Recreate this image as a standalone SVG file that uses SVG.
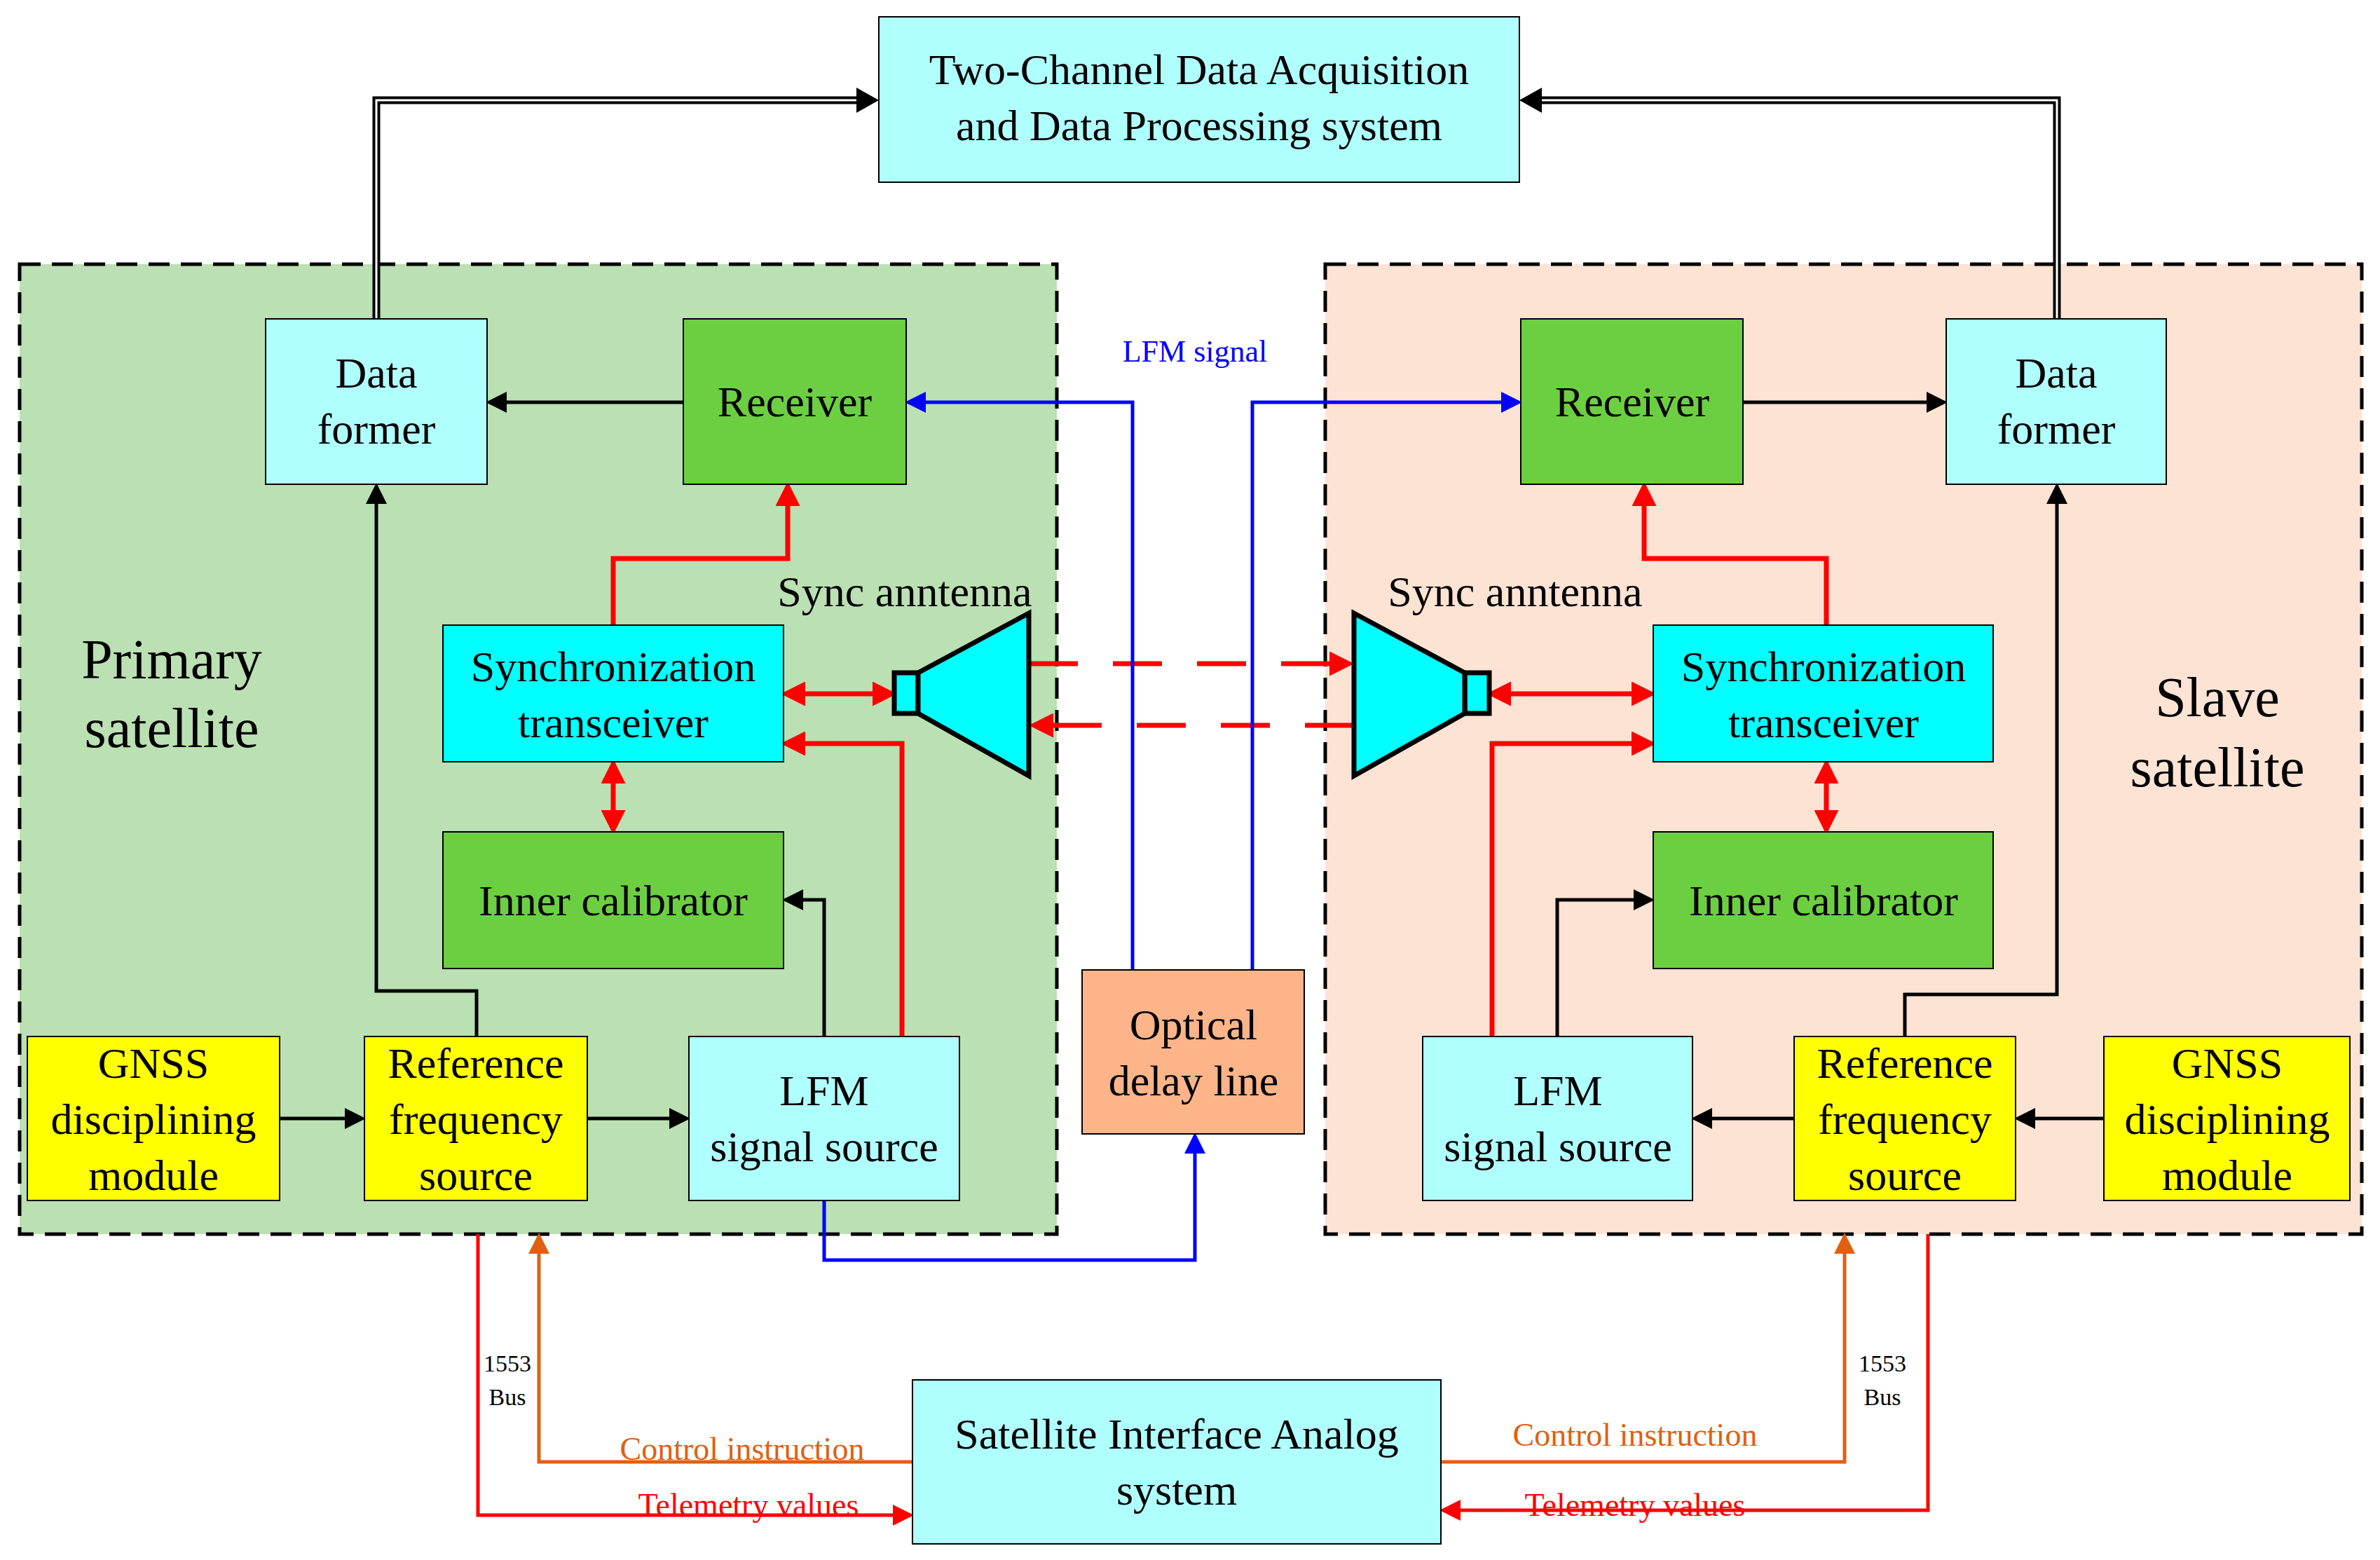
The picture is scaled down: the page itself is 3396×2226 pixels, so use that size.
<svg xmlns="http://www.w3.org/2000/svg" width="3396" height="2226" viewBox="0 0 3396 2226">
<defs>
<style>
text{font-family:"Liberation Serif","Times New Roman",serif;text-anchor:middle}
.t{font-size:62px;fill:#000}
.b{stroke:#000;stroke-width:2}
.k{fill:none;stroke:#000;stroke-width:5}
.r{fill:none;stroke:#ff0000;stroke-width:7}
.u{fill:none;stroke:#0000ff;stroke-width:5}
.o{fill:none;stroke:#e06010;stroke-width:5}
.rt{fill:none;stroke:#ff0000;stroke-width:5}
</style>
<marker id="ak" markerWidth="6" markerHeight="6" refX="5" refY="3" orient="auto" markerUnits="strokeWidth"><path d="M0,0L6,3L0,6z" fill="#000"/></marker>
<marker id="ak2" markerWidth="10" markerHeight="10" refX="9" refY="5" orient="auto" markerUnits="userSpaceOnUse" viewBox="0 0 10 10"><path d="M0,0L10,5L0,10z" fill="#000"/></marker>
<marker id="ar" markerWidth="5" markerHeight="5" refX="4" refY="2.5" orient="auto-start-reverse" markerUnits="strokeWidth"><path d="M0,0L5,2.5L0,5z" fill="#ff0000"/></marker>
<marker id="au" markerWidth="6" markerHeight="6" refX="5" refY="3" orient="auto" markerUnits="strokeWidth"><path d="M0,0L6,3L0,6z" fill="#0000ff"/></marker>
<marker id="ao" markerWidth="6" markerHeight="6" refX="5" refY="3" orient="auto" markerUnits="strokeWidth"><path d="M0,0L6,3L0,6z" fill="#e06010"/></marker>
<marker id="art" markerWidth="6" markerHeight="6" refX="5" refY="3" orient="auto" markerUnits="strokeWidth"><path d="M0,0L6,3L0,6z" fill="#ff0000"/></marker>
</defs>
<rect width="3396" height="2226" fill="#fff"/>
<g id="primary"><rect x="28" y="377" width="1480" height="1384" fill="#bbe0b3" stroke="#000" stroke-width="5" stroke-dasharray="30,16"/>
<text class="t" style="font-size:80px" x="245" y="968">Primary</text><text class="t" style="font-size:80px" x="245" y="1066">satellite</text></g>
<g id="slave"><rect x="1891" y="377" width="1479" height="1384" fill="#fde3d4" stroke="#000" stroke-width="5" stroke-dasharray="30,16"/>
<text class="t" style="font-size:80px" x="3164" y="1022">Slave</text><text class="t" style="font-size:80px" x="3164" y="1122">satellite</text></g>

<g id="connectors">
<path d="M537,455V143H1240" fill="none" stroke="#000" stroke-width="11"/>
<path d="M537,455V143H1240" fill="none" stroke="#fff" stroke-width="3"/>
<path d="M1222,125L1254,143L1222,161z"/>
<path d="M2935,455V143H2182" fill="none" stroke="#000" stroke-width="11"/>
<path d="M2935,455V143H2182" fill="none" stroke="#fff" stroke-width="3"/>
<path d="M2200,125L2168,143L2200,161z"/>
<path class="k" d="M975,574H698" marker-end="url(#ak)"/>
<path class="k" d="M2487,574H2774" marker-end="url(#ak)"/>
<path class="k" d="M680,1479V1414H537V694" marker-end="url(#ak)"/>
<path class="k" d="M2718,1479V1419H2935V694" marker-end="url(#ak)"/>
<path class="k" d="M1176,1479V1284H1121" marker-end="url(#ak)"/>
<path class="k" d="M2222,1479V1284H2356" marker-end="url(#ak)"/>
<path class="k" d="M399,1596H517" marker-end="url(#ak)"/>
<path class="k" d="M838,1596H980" marker-end="url(#ak)"/>
<path class="k" d="M3002,1596H2879" marker-end="url(#ak)"/>
<path class="k" d="M2560,1596H2418" marker-end="url(#ak)"/>
<path class="r" d="M875,892V797H1124V694" marker-end="url(#ar)"/>
<path class="r" d="M2606,892V797H2346V694" marker-end="url(#ar)"/>
<path class="r" d="M1121,990H1273" marker-start="url(#ar)" marker-end="url(#ar)"/>
<path class="r" d="M2128,990H2356" marker-start="url(#ar)" marker-end="url(#ar)"/>
<path class="r" d="M1287,1479V1061H1121" marker-end="url(#ar)"/>
<path class="r" d="M2129,1479V1061H2356" marker-end="url(#ar)"/>
<path class="r" d="M875,1090V1184" marker-start="url(#ar)" marker-end="url(#ar)"/>
<path class="r" d="M2606,1090V1184" marker-start="url(#ar)" marker-end="url(#ar)"/>
<path class="r" d="M1468,947H1925" stroke-width="9" stroke-dasharray="70,50" marker-end="url(#ar)"/>
<path class="r" d="M1932,1035H1475" stroke-width="9" stroke-dasharray="70,50" marker-end="url(#ar)"/>
<path class="u" d="M1176,1713V1798H1705V1621" marker-end="url(#au)"/>
<path class="u" d="M1616,1384V574H1296" marker-end="url(#au)"/>
<path class="u" d="M1787,1384V574H2167" marker-end="url(#au)"/>
<path class="rt" d="M682,1761V2162H1299" marker-end="url(#art)"/>
<path class="o" d="M1302,2086H769V1764" marker-end="url(#ao)"/>
<path class="rt" d="M2751,1761V2155H2059" marker-end="url(#art)"/>
<path class="o" d="M2056,2086H2632V1764" marker-end="url(#ao)"/>
<text x="1705" y="516" style="font-size:44px;fill:#0000ff">LFM signal</text>
<text x="724" y="1957" style="font-size:34px">1553</text><text x="724" y="2005" style="font-size:34px">Bus</text>
<text x="2686" y="1957" style="font-size:34px">1553</text><text x="2686" y="2005" style="font-size:34px">Bus</text>
<text x="1059" y="2083" style="font-size:46px;fill:#e06010">Control instruction</text>
<text x="1068" y="2163" style="font-size:46px;fill:#ff0000">Telemetry values</text>
<text x="2333" y="2063" style="font-size:46px;fill:#e06010">Control instruction</text>
<text x="2333" y="2163" style="font-size:46px;fill:#ff0000">Telemetry values</text>
</g>

<g id="top"><rect class="b" x="1254" y="24" width="914" height="236" fill="#b0ffff"/><text class="t" x="1711" y="120">Two-Channel Data Acquisition</text><text class="t" x="1711" y="200">and Data Processing system</text></g>
<g id="dfL"><rect class="b" x="379" y="455" width="316" height="236" fill="#b0ffff"/><text class="t" x="537" y="553">Data</text><text class="t" x="537" y="633">former</text></g>
<g id="rxL"><rect class="b" x="975" y="455" width="318" height="236" fill="#6ccf41"/><text class="t" x="1134" y="594">Receiver</text></g>
<g id="stL"><rect class="b" x="632" y="892" width="486" height="195" fill="#00ffff"/><text class="t" x="875" y="972">Synchronization</text><text class="t" x="875" y="1052">transceiver</text></g>
<g id="icL"><rect class="b" x="632" y="1187" width="486" height="195" fill="#6ccf41"/><text class="t" x="875" y="1306">Inner calibrator</text></g>
<g id="gnL"><rect class="b" x="39" y="1479" width="360" height="234" fill="#ffff00"/><text class="t" x="219" y="1538">GNSS</text><text class="t" x="219" y="1618">disciplining</text><text class="t" x="219" y="1698">module</text></g>
<g id="rfL"><rect class="b" x="520" y="1479" width="318" height="234" fill="#ffff00"/><text class="t" x="679" y="1538">Reference</text><text class="t" x="679" y="1618">frequency</text><text class="t" x="679" y="1698">source</text></g>
<g id="lfL"><rect class="b" x="983" y="1479" width="386" height="234" fill="#b0ffff"/><text class="t" x="1176" y="1577">LFM</text><text class="t" x="1176" y="1657">signal source</text></g>
<g id="antL"><rect x="1276" y="960" width="34" height="58" fill="#00ffff" stroke="#000" stroke-width="7"/><path d="M1310,960L1468,875V1107L1310,1018z" fill="#00ffff" stroke="#000" stroke-width="7"/><text class="t" x="1291" y="865">Sync anntenna</text></g>
<g id="opt"><rect class="b" x="1544" y="1384" width="317" height="234" fill="#fcb488"/><text class="t" x="1703" y="1483">Optical</text><text class="t" x="1703" y="1563">delay line</text></g>
<g id="sia"><rect class="b" x="1302" y="1969" width="754" height="234" fill="#b0ffff"/><text class="t" x="1679" y="2067">Satellite Interface Analog</text><text class="t" x="1679" y="2147">system</text></g>
<g id="rxR"><rect class="b" x="2170" y="455" width="317" height="236" fill="#6ccf41"/><text class="t" x="2329" y="594">Receiver</text></g>
<g id="dfR"><rect class="b" x="2777" y="455" width="314" height="236" fill="#b0ffff"/><text class="t" x="2934" y="553">Data</text><text class="t" x="2934" y="633">former</text></g>
<g id="stR"><rect class="b" x="2359" y="892" width="485" height="195" fill="#00ffff"/><text class="t" x="2602" y="972">Synchronization</text><text class="t" x="2602" y="1052">transceiver</text></g>
<g id="icR"><rect class="b" x="2359" y="1187" width="485" height="195" fill="#6ccf41"/><text class="t" x="2602" y="1306">Inner calibrator</text></g>
<g id="lfR"><rect class="b" x="2030" y="1479" width="385" height="234" fill="#b0ffff"/><text class="t" x="2223" y="1577">LFM</text><text class="t" x="2223" y="1657">signal source</text></g>
<g id="rfR"><rect class="b" x="2560" y="1479" width="316" height="234" fill="#ffff00"/><text class="t" x="2718" y="1538">Reference</text><text class="t" x="2718" y="1618">frequency</text><text class="t" x="2718" y="1698">source</text></g>
<g id="gnR"><rect class="b" x="3002" y="1479" width="351" height="234" fill="#ffff00"/><text class="t" x="3178" y="1538">GNSS</text><text class="t" x="3178" y="1618">disciplining</text><text class="t" x="3178" y="1698">module</text></g>
<g id="antR"><rect x="2090" y="960" width="35" height="58" fill="#00ffff" stroke="#000" stroke-width="7"/><path d="M2090,960L1932,875V1107L2090,1018z" fill="#00ffff" stroke="#000" stroke-width="7"/><text class="t" x="2162" y="865">Sync anntenna</text></g>
</svg>
